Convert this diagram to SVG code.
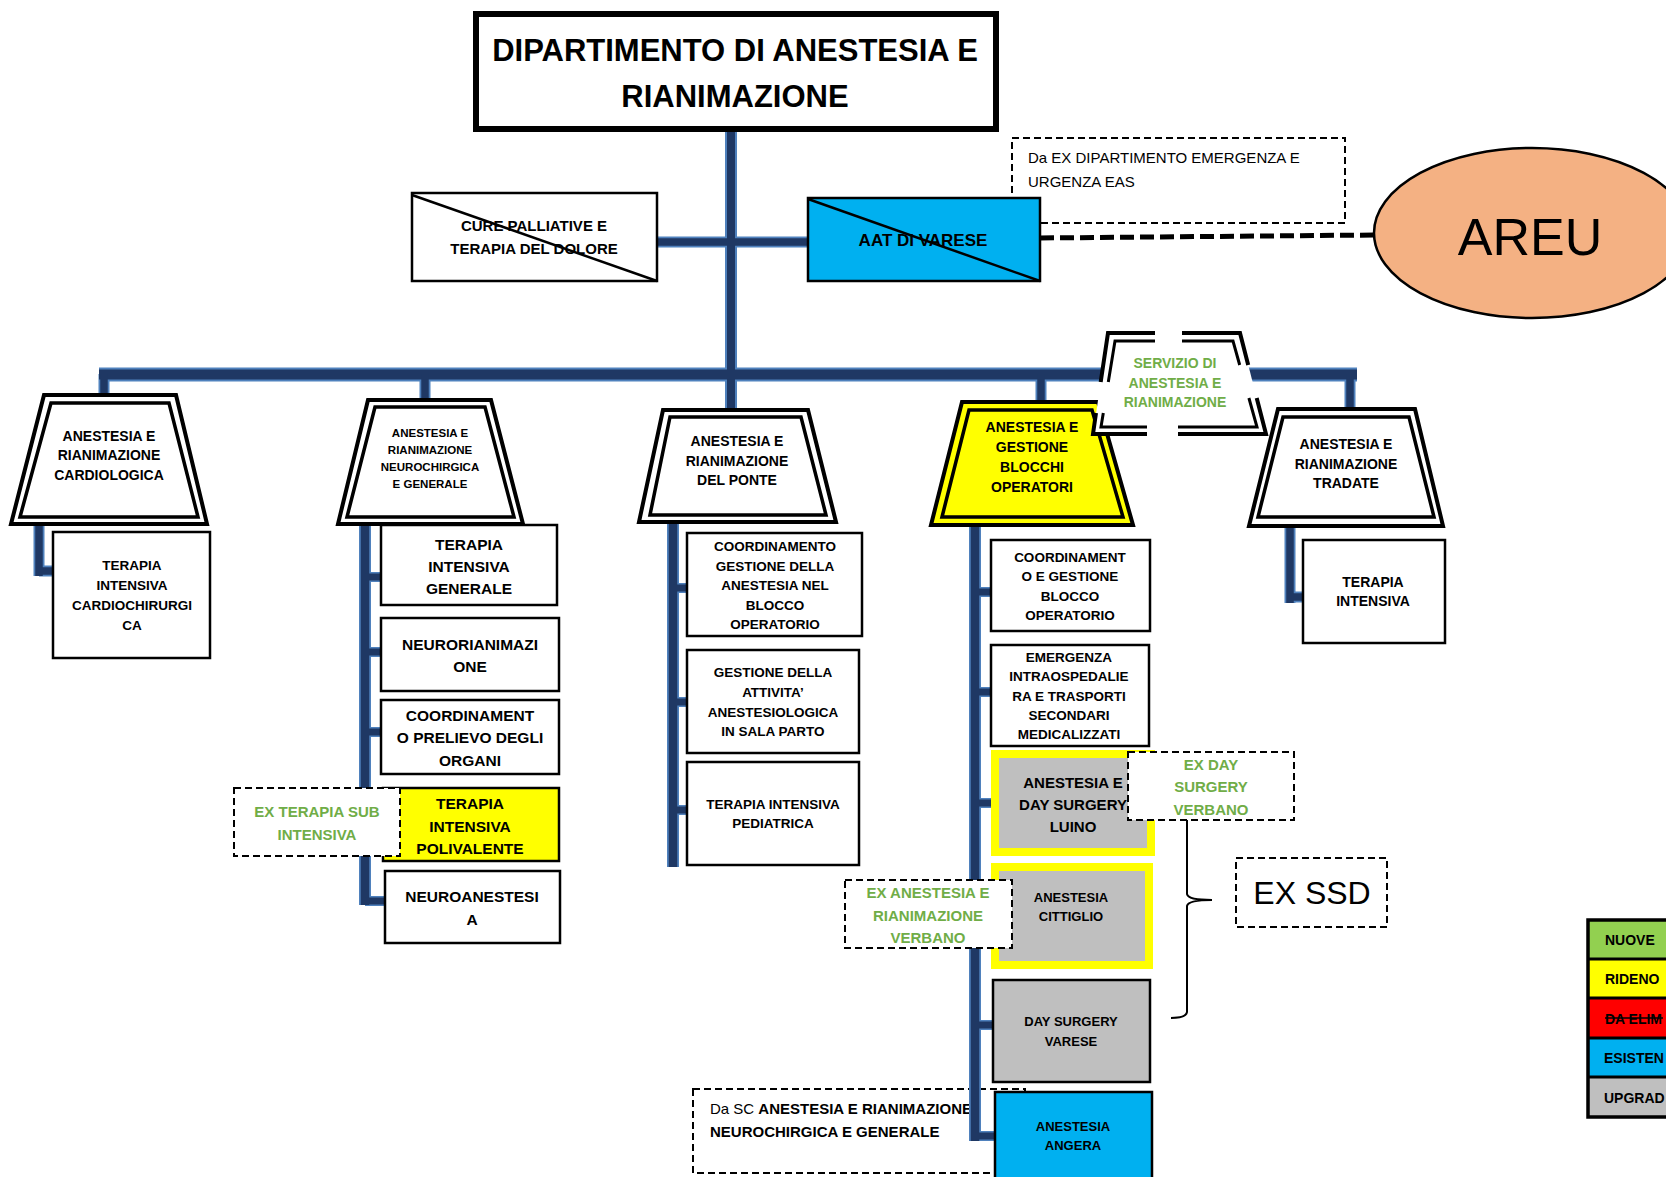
<svg xmlns="http://www.w3.org/2000/svg" width="1666" height="1177" viewBox="0 0 1666 1177">
<style>
  text { font-family: "Liberation Sans", Arial, sans-serif; }
  .b { font-weight: bold; text-anchor: middle; fill: #000; }
  .g { font-weight: bold; text-anchor: middle; fill: #70ad47; }
  .box { fill: #fff; stroke: #000; stroke-width: 2.5; }
  .dash { fill: #fff; stroke: #000; stroke-width: 2; stroke-dasharray: 7 4; }
  .dashn { fill: none; stroke: #000; stroke-width: 2; stroke-dasharray: 7 4; }
  .to { fill: #fff; stroke: #000; stroke-width: 4; stroke-linejoin: miter; }
  .ti { fill: #fff; stroke: #000; stroke-width: 3.5; stroke-linejoin: miter; }
  .e { fill: none; stroke: #4f81bd; }
  .k { fill: none; stroke: #1f3864; }
  .sv { fill: none; stroke: #000; stroke-linejoin: miter; }
  .lg { font-weight: bold; font-size: 14px; }
</style>

<!-- Title -->
<g id="title">
  <rect x="476" y="14" width="520" height="115" fill="#fff" stroke="#000" stroke-width="6"/>
  <text class="b" x="735" y="61" font-size="31">DIPARTIMENTO DI ANESTESIA E</text>
  <text class="b" x="735" y="107" font-size="31">RIANIMAZIONE</text>
</g>

<!-- Da SC dashed note (below connectors) -->
<g id="note-dasc">
  <rect class="dash" x="693" y="1089" width="332" height="84"/>
  <text x="710" y="1113.5" font-size="15">Da SC <tspan font-weight="bold"> ANESTESIA E RIANIMAZIONE</tspan></text>
  <text x="710" y="1136.5" font-size="15" font-weight="bold">NEUROCHIRGICA E GENERALE</text>
</g>

<!-- Note Da EX dipartimento -->
<g id="note-daex">
  <rect class="dashn" x="1012" y="138" width="333" height="85"/>
  <text x="1028" y="162.5" font-size="15">Da EX DIPARTIMENTO EMERGENZA E</text>
  <text x="1028" y="186.5" font-size="15">URGENZA EAS</text>
</g>

<!-- Connectors -->
<g id="connectors">
  <g class="e">
    <path d="M731 132V410" stroke-width="12"/>
    <path d="M657 242H808" stroke-width="11"/>
    <path d="M99 374.5H1357" stroke-width="14"/>
    <path d="M104 374V396M425 374V400M1041 374V403M1350 374V410" stroke-width="11"/>
    <path d="M39 524V576M1290 526V603" stroke-width="11"/>
    <path d="M39 571H53M1290 597H1302" stroke-width="11"/>
    <path d="M365 524V905" stroke-width="12"/>
    <path d="M365 577H381M365 652H381M365 732H381M365 817H383M365 901H385" stroke-width="10"/>
    <path d="M673 522V867" stroke-width="12"/>
    <path d="M673 588H687M673 702H687M673 810H687" stroke-width="10"/>
    <path d="M975 525V1141" stroke-width="12"/>
    <path d="M975 592H990M975 692H990M975 803H991M975 915H991M975 1025H992M975 1136H994" stroke-width="10"/>
  </g>
  <g class="k">
    <path d="M731 132V410" stroke-width="8"/>
    <path d="M657 242H808" stroke-width="7.5"/>
    <path d="M99 374.5H1357" stroke-width="10"/>
    <path d="M104 374V396M425 374V400M1041 374V403M1350 374V410" stroke-width="7.5"/>
    <path d="M39 524V576M1290 526V603" stroke-width="7.5"/>
    <path d="M39 571H53M1290 597H1302" stroke-width="7.5"/>
    <path d="M365 524V905" stroke-width="8.5"/>
    <path d="M365 577H381M365 652H381M365 732H381M365 817H383M365 901H385" stroke-width="7"/>
    <path d="M673 522V867" stroke-width="8.5"/>
    <path d="M673 588H687M673 702H687M673 810H687" stroke-width="7"/>
    <path d="M975 525V1141" stroke-width="8.5"/>
    <path d="M975 592H990M975 692H990M975 803H991M975 915H991M975 1025H992M975 1136H994" stroke-width="7"/>
  </g>
  <path d="M1040 238L1374 235" fill="none" stroke="#000" stroke-width="5" stroke-dasharray="14 6"/>
</g>

<!-- CURE PALLIATIVE -->
<g id="cure-palliative">
  <rect class="box" x="412" y="193" width="245" height="88"/>
  <text class="b" x="534" y="230.5" font-size="15">CURE PALLIATIVE E</text>
  <text class="b" x="534" y="253.5" font-size="15">TERAPIA DEL DOLORE</text>
  <line x1="412" y1="195" x2="657" y2="281" stroke="#000" stroke-width="2.5"/>
</g>

<!-- AAT DI VARESE -->
<g id="aat-varese">
  <rect x="808" y="198" width="232" height="83" fill="#00b0f0" stroke="#000" stroke-width="2.5"/>
  <text class="b" x="923" y="246" font-size="17">AAT DI VARESE</text>
  <line x1="808" y1="199" x2="1040" y2="281" stroke="#000" stroke-width="2.5"/>
</g>

<!-- AREU -->
<g id="areu">
  <ellipse cx="1532" cy="233" rx="158" ry="85" fill="#f4b183" stroke="#000" stroke-width="2.5"/>
  <text x="1530" y="255" font-size="52" text-anchor="middle">AREU</text>
</g>

<!-- Cardiologica -->
<g id="cardiologica">
  <polygon class="to" points="44,395 176,395 207,524 11,524"/>
  <polygon class="ti" points="51,403 169,403 198,517 20,517"/>
  <text class="b" x="109" y="441" font-size="14">ANESTESIA E</text>
  <text class="b" x="109" y="460" font-size="14">RIANIMAZIONE</text>
  <text class="b" x="109" y="480" font-size="14">CARDIOLOGICA</text>
</g>
<g id="ti-cardiochirurgica">
  <rect class="box" x="53" y="532" width="157" height="126"/>
  <text class="b" x="132" y="570" font-size="13.5">TERAPIA</text>
  <text class="b" x="132" y="590" font-size="13.5">INTENSIVA</text>
  <text class="b" x="132" y="610" font-size="13.5">CARDIOCHIRURGI</text>
  <text class="b" x="132" y="630" font-size="13.5">CA</text>
</g>

<!-- Neurochirgica -->
<g id="neurochirgica">
  <polygon class="to" points="368,400 491,400 523,524 338,524"/>
  <polygon class="ti" points="375,407 485,407 514,517 347,517"/>
  <text class="b" x="430" y="437" font-size="11.5">ANESTESIA E</text>
  <text class="b" x="430" y="454" font-size="11.5">RIANIMAZIONE</text>
  <text class="b" x="430" y="471" font-size="11.5">NEUROCHIRGICA</text>
  <text class="b" x="430" y="488" font-size="11.5">E GENERALE</text>
</g>
<g id="ti-generale">
  <rect class="box" x="381" y="525" width="176" height="80"/>
  <text class="b" x="469" y="549.5" font-size="15.5">TERAPIA</text>
  <text class="b" x="469" y="571.5" font-size="15.5">INTENSIVA</text>
  <text class="b" x="469" y="593.5" font-size="15.5">GENERALE</text>
</g>
<g id="neurorianimazione">
  <rect class="box" x="381" y="618" width="178" height="73"/>
  <text class="b" x="470" y="649.5" font-size="15.5">NEURORIANIMAZI</text>
  <text class="b" x="470" y="671.5" font-size="15.5">ONE</text>
</g>
<g id="coord-prelievo">
  <rect class="box" x="381" y="700" width="178" height="74"/>
  <text class="b" x="470" y="720.5" font-size="15.5">COORDINAMENT</text>
  <text class="b" x="470" y="742.5" font-size="15.5">O PRELIEVO DEGLI</text>
  <text class="b" x="470" y="765.5" font-size="15.5">ORGANI</text>
</g>
<g id="ti-polivalente">
  <rect x="383" y="788" width="176" height="73" fill="#ffff00" stroke="#000" stroke-width="2.5"/>
  <text class="b" x="470" y="808.5" font-size="15.5">TERAPIA</text>
  <text class="b" x="470" y="831.5" font-size="15.5">INTENSIVA</text>
  <text class="b" x="470" y="853.5" font-size="15.5">POLIVALENTE</text>
</g>
<g id="ex-subintensiva">
  <rect class="dash" x="234" y="788" width="166" height="68"/>
  <text class="g" x="317" y="816.5" font-size="15">EX TERAPIA SUB</text>
  <text class="g" x="317" y="839.5" font-size="15">INTENSIVA</text>
</g>
<g id="neuroanestesia">
  <rect class="box" x="385" y="871" width="175" height="72"/>
  <text class="b" x="472" y="901.5" font-size="15.5">NEUROANESTESI</text>
  <text class="b" x="472" y="924.5" font-size="15.5">A</text>
</g>

<!-- Ponte -->
<g id="ponte">
  <polygon class="to" points="663,410 808,410 836,522 639,522"/>
  <polygon class="ti" points="670,417 801,417 826,515 650,515"/>
  <text class="b" x="737" y="446" font-size="14">ANESTESIA E</text>
  <text class="b" x="737" y="466" font-size="14">RIANIMAZIONE</text>
  <text class="b" x="737" y="485" font-size="14">DEL PONTE</text>
</g>
<g id="coord-anestesia-blocco">
  <rect class="box" x="687" y="533" width="175" height="103"/>
  <text class="b" x="775" y="551" font-size="13.5">COORDINAMENTO</text>
  <text class="b" x="775" y="570.5" font-size="13.5">GESTIONE DELLA</text>
  <text class="b" x="775" y="590" font-size="13.5">ANESTESIA NEL</text>
  <text class="b" x="775" y="609.5" font-size="13.5">BLOCCO</text>
  <text class="b" x="775" y="629" font-size="13.5">OPERATORIO</text>
</g>
<g id="sala-parto">
  <rect class="box" x="687" y="650" width="172" height="103"/>
  <text class="b" x="773" y="677" font-size="13.5">GESTIONE  DELLA</text>
  <text class="b" x="773" y="697" font-size="13.5">ATTIVITA’</text>
  <text class="b" x="773" y="717" font-size="13.5">ANESTESIOLOGICA</text>
  <text class="b" x="773" y="736" font-size="13.5">IN SALA PARTO</text>
</g>
<g id="ti-pediatrica">
  <rect class="box" x="687" y="762" width="172" height="103"/>
  <text class="b" x="773" y="809" font-size="13.5">TERAPIA INTENSIVA</text>
  <text class="b" x="773" y="828" font-size="13.5">PEDIATRICA</text>
</g>

<!-- Blocchi operatori -->
<g id="blocchi-operatori">
  <polygon class="to" points="962,402 1098,402 1133,525 931,525" style="fill:#ffff00"/>
  <polygon class="ti" points="969,410 1092,410 1123,517 942,517" style="fill:#ffff00"/>
  <text class="b" x="1032" y="432" font-size="14">ANESTESIA E</text>
  <text class="b" x="1032" y="452" font-size="14">GESTIONE</text>
  <text class="b" x="1032" y="472" font-size="14">BLOCCHI</text>
  <text class="b" x="1032" y="492" font-size="14">OPERATORI</text>
</g>
<g id="coord-gestione-blocco">
  <rect class="box" x="991" y="540" width="159" height="91"/>
  <text class="b" x="1070" y="562" font-size="13.5">COORDINAMENT</text>
  <text class="b" x="1070" y="581" font-size="13.5">O E GESTIONE</text>
  <text class="b" x="1070" y="601" font-size="13.5">BLOCCO</text>
  <text class="b" x="1070" y="620" font-size="13.5">OPERATORIO</text>
</g>
<g id="emergenza">
  <rect class="box" x="991" y="645" width="158" height="101"/>
  <text class="b" x="1069" y="662" font-size="13.5">EMERGENZA</text>
  <text class="b" x="1069" y="681" font-size="13.5">INTRAOSPEDALIE</text>
  <text class="b" x="1069" y="701" font-size="13.5">RA E TRASPORTI</text>
  <text class="b" x="1069" y="720" font-size="13.5">SECONDARI</text>
  <text class="b" x="1069" y="739" font-size="13.5">MEDICALIZZATI</text>
</g>
<g id="luino">
  <rect x="995" y="754" width="156" height="98" fill="#bfbfbf" stroke="#ffff00" stroke-width="8"/>
  <text class="b" x="1073" y="787.5" font-size="15">ANESTESIA E</text>
  <text class="b" x="1073" y="809.5" font-size="15">DAY SURGERY</text>
  <text class="b" x="1073" y="831.5" font-size="15">LUINO</text>
</g>
<g id="ex-day-surgery-verbano">
  <rect class="dash" x="1128" y="752" width="166" height="68"/>
  <text class="g" x="1211" y="769.5" font-size="15">EX DAY</text>
  <text class="g" x="1211" y="791.5" font-size="15">SURGERY</text>
  <text class="g" x="1211" y="814.5" font-size="15">VERBANO</text>
</g>
<g id="cittiglio">
  <rect x="995" y="867" width="154" height="98" fill="#bfbfbf" stroke="#ffff00" stroke-width="8"/>
  <text class="b" x="1071" y="901.5" font-size="13">ANESTESIA</text>
  <text class="b" x="1071" y="920.5" font-size="13">CITTIGLIO</text>
</g>
<g id="ex-anestesia-verbano">
  <rect class="dash" x="845" y="880" width="167" height="68"/>
  <text class="g" x="928" y="897.5" font-size="15">EX ANESTESIA E</text>
  <text class="g" x="928" y="920.5" font-size="15">RIANIMAZIONE</text>
  <text class="g" x="928" y="942.5" font-size="15">VERBANO</text>
</g>
<g id="day-surgery-varese">
  <rect x="993" y="980" width="157" height="102" fill="#bfbfbf" stroke="#000" stroke-width="2.5"/>
  <text class="b" x="1071" y="1025.5" font-size="13">DAY SURGERY</text>
  <text class="b" x="1071" y="1045.5" font-size="13">VARESE</text>
</g>
<g id="angera">
  <rect x="995" y="1092" width="157" height="95" fill="#00b0f0" stroke="#000" stroke-width="2.5"/>
  <text class="b" x="1073" y="1130.5" font-size="13">ANESTESIA</text>
  <text class="b" x="1073" y="1149.5" font-size="13">ANGERA</text>
</g>

<!-- EX SSD with brace -->
<g id="ex-ssd">
  <path d="M1187 820V894Q1188 900 1212 900Q1188 900 1187 906V1012Q1186 1018 1171 1018" fill="none" stroke="#000" stroke-width="2"/>
  <rect class="dashn" x="1236" y="858" width="151" height="69"/>
  <text x="1312" y="903.5" font-size="32" text-anchor="middle">EX SSD</text>
</g>

<!-- Servizio di anestesia e rianimazione -->
<g id="servizio">
  <polygon points="1108,333 1240,333 1266,434 1093,434" fill="#fff"/>
  <g class="sv" stroke-width="4">
    <path d="M1155 333H1108L1100.7 382"/>
    <path d="M1096 413L1093 434H1147"/>
    <path d="M1178 434H1266L1256.7 398"/>
    <path d="M1248.2 365L1240 333H1182"/>
  </g>
  <g class="sv" stroke-width="3">
    <path d="M1155 341H1115L1108.3 382"/>
    <path d="M1103.3 413L1101 427H1147"/>
    <path d="M1178 427H1257L1248.9 398"/>
    <path d="M1239.7 365L1233 341H1182"/>
  </g>
  <text class="g" x="1175" y="368" font-size="14">SERVIZIO DI</text>
  <text class="g" x="1175" y="388" font-size="14">ANESTESIA E</text>
  <text class="g" x="1175" y="407" font-size="14">RIANIMAZIONE</text>
</g>

<!-- Tradate -->
<g id="tradate">
  <polygon class="to" points="1278,409 1415,409 1443,526 1249,526"/>
  <polygon class="ti" points="1283,417 1409,417 1434,517 1258,517"/>
  <text class="b" x="1346" y="449" font-size="14">ANESTESIA E</text>
  <text class="b" x="1346" y="469" font-size="14">RIANIMAZIONE</text>
  <text class="b" x="1346" y="488" font-size="14">TRADATE</text>
</g>
<g id="ti-tradate">
  <rect class="box" x="1303" y="540" width="142" height="103"/>
  <text class="b" x="1373" y="587" font-size="14">TERAPIA</text>
  <text class="b" x="1373" y="606" font-size="14">INTENSIVA</text>
</g>

<!-- Legend -->
<g id="legend">
  <rect x="1588" y="920" width="90" height="39" fill="#92d050"/>
  <rect x="1588" y="959" width="90" height="39" fill="#ffff00"/>
  <rect x="1588" y="998" width="90" height="40" fill="#ff0000"/>
  <rect x="1588" y="1038" width="90" height="39" fill="#00b0f0"/>
  <rect x="1588" y="1077" width="90" height="40" fill="#bfbfbf"/>
  <rect x="1588" y="920" width="90" height="197" fill="none" stroke="#000" stroke-width="3.5"/>
  <path d="M1588 959H1678M1588 998H1678M1588 1038H1678M1588 1077H1678" stroke="#000" stroke-width="3"/>
  <text class="lg" x="1605" y="945" font-size="15">NUOVE</text>
  <text class="lg" x="1605" y="984">RIDENO</text>
  <text class="lg" x="1605" y="1024">DA ELIM</text>
  <line x1="1605" y1="1018" x2="1663" y2="1018" stroke="#000" stroke-width="1.5"/>
  <text class="lg" x="1604" y="1063">ESISTEN</text>
  <text class="lg" x="1604" y="1103" font-size="13.5">UPGRAD</text>
</g>
</svg>
